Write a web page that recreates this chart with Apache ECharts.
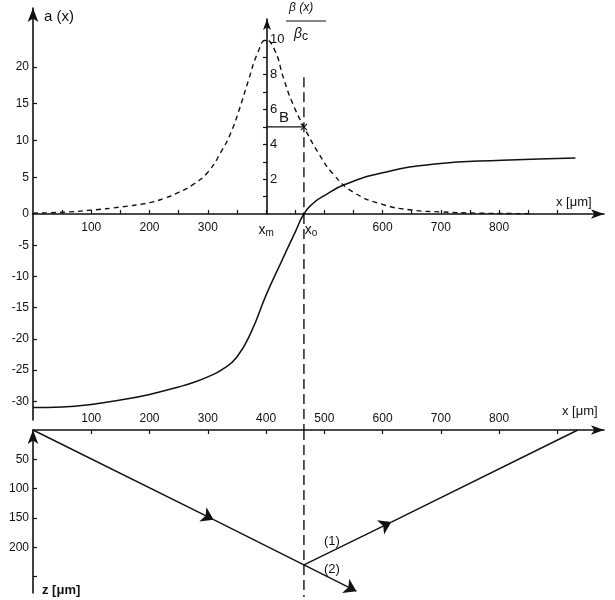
<!DOCTYPE html>
<html>
<head>
<meta charset="utf-8">
<script src="https://cdn.jsdelivr.net/npm/echarts@6/dist/echarts.min.js"></script>
<style>
html, body { margin: 0; padding: 0; background: #fff; }
#chart { width: 615px; height: 600px; }
</style>
</head>
<body>
<div id="chart"></div>
<script>
// a(x) - solid curve (x in um)
const aX = [0, 50, 100, 150, 200, 250, 275, 300, 325, 350, 375, 400, 425, 450, 465, 480, 500, 535, 600, 690, 805, 931];
const aVal = [-31, -30.9, -30.5, -29.8, -28.9, -27.7, -27.0, -26.1, -24.9, -22.9, -18.8, -13.0, -7.9, -2.9, 0, 1.4, 2.5, 4.0, 5.6, 6.8, 7.3, 7.6];

// beta(x)/beta_c - dashed curve
const betaX = [0, 50, 100, 150, 200, 225, 250, 275, 300, 325, 340, 355, 370, 385, 400, 415, 430, 445, 465, 490, 515, 550, 600, 650, 700, 760, 855];
const betaVal = [0.05, 0.1, 0.22, 0.4, 0.65, 0.9, 1.24, 1.7, 2.4, 3.7, 4.7, 6.1, 7.7, 9.2, 10, 9.4, 7.8, 6.4, 5.0, 3.5, 2.3, 1.25, 0.55, 0.23, 0.12, 0.05, 0.02];

// ticks and labels
const xTicks = [50, 100, 150, 200, 250, 300, 350, 400, 450, 500, 550, 600, 650, 700, 750, 800, 850, 900];
const xTopLabels = [100, 200, 300, 400, 465, 600, 700, 800];
const xLowTicks = [100, 200, 300, 400, 500, 600, 700, 800, 900];
const xLowLabels = [100, 200, 300, 400, 500, 600, 700, 800];
const aPosTicks = [5, 10, 15, 20];
const aPosLabels = [0, 5, 10, 15, 20];
const aNegTicks = [-5, -10, -15, -20, -25, -30];
const betaTicks = [1, 2, 3, 4, 5, 6, 7, 8, 9, 10];
const betaLabels = [2, 4, 6, 8, 10];
const zTicks = [50, 100, 150, 200, 250];
const zLabels = [50, 100, 150, 200];

// special points
const xM = 400;
const x0 = 465;
const betaB = 5;
const x0LineTop = 18.6;   // a-value where dashed x0 line starts
const x0LineMid = -34.6;  // down to lower panel
const x0LineBottom = 285; // z-value where it ends

// ray paths in the lower panel, middle point = arrow position
const pathIn = [[0, 0], [310, 153], [465, 230]];
const path1 = [[465, 230], [615, 157], [935, 0]];
const path2 = [[465, 230], [555, 275]];

const FONT = 'Liberation Sans';
const INK = '#111';

// split the solid curve at a = 0, keeping one point past the split so both halves join smoothly (clipped by grid)
const solidNeg = [];
const solidPos = [];
aX.forEach((x, i) => {
    if (aVal[i] <= 0 || (i > 0 && aVal[i - 1] <= 0)) solidNeg.push([x, aVal[i]]);
    if (aVal[i] >= 0 || (i < aX.length - 1 && aVal[i + 1] >= 0)) solidPos.push([x, aVal[i]]);
});
const betaData = betaX.map((x, i) => [x, betaVal[i]]);

const arrowSegs = [
    { coords: [pathIn[0], pathIn[1]] },
    { coords: [path1[0], path1[1]] },
    { coords: [path2[0], path2[1]] }
];
const plainSegs = [
    { coords: [pathIn[1], pathIn[2]] },
    { coords: [path1[1], path1[2]] }
];

const axisLineStyle = { color: INK, width: 1.6 };
const labelStyle = { color: INK, fontFamily: FONT, fontSize: 12 };

const chart = echarts.init(document.getElementById('chart'), null, { renderer: 'canvas' });

const option = {
    animation: false,
    backgroundColor: '#fff',
    grid: [
        { left: 33, top: 8, width: 571, height: 206, outerBoundsMode: 'none' },   // a >= 0
        { left: 33, top: 19, width: 571, height: 195, outerBoundsMode: 'none' },  // beta axis
        { left: 33, top: 214, width: 571, height: 206, outerBoundsMode: 'none' }, // a < 0
        { left: 33, top: 430, width: 571, height: 163, outerBoundsMode: 'none' }  // ray paths
    ],
    xAxis: [
        {
            gridIndex: 0, type: 'value', min: 0, max: 980,
            axisLine: { onZero: false, symbol: ['none', 'arrow'], symbolSize: [7, 13], lineStyle: axisLineStyle },
            axisTick: { inside: true, length: 4, customValues: xTicks, lineStyle: { color: INK, width: 1.2 } },
            axisLabel: Object.assign({}, labelStyle, {
                margin: 8,
                customValues: xTopLabels,
                formatter: v => v === xM ? '{b|x}{s|m}' : (v === x0 ? '{p|}{b|x}{s|o}' : String(v)),
                rich: {
                    b: { fontFamily: FONT, fontSize: 14, color: INK },
                    s: { fontFamily: FONT, fontSize: 10, color: INK, padding: [6, 0, 0, 0] },
                    p: { width: 14 }
                }
            }),
            splitLine: { show: false }
        },
        { gridIndex: 1, type: 'value', min: 0, max: 980, show: false },
        { gridIndex: 2, type: 'value', min: 0, max: 980, show: false },
        {
            gridIndex: 3, type: 'value', min: 0, max: 980, position: 'top',
            axisLine: { onZero: false, symbol: ['none', 'arrow'], symbolSize: [7, 13], lineStyle: axisLineStyle },
            axisTick: { inside: true, length: 4, customValues: xLowTicks, lineStyle: { color: INK, width: 1.2 } },
            axisLabel: Object.assign({}, labelStyle, { margin: 5, customValues: xLowLabels }),
            splitLine: { show: false }
        }
    ],
    yAxis: [
        {
            gridIndex: 0, type: 'value', min: 0, max: 28,
            axisLine: { show: true, onZero: false, symbol: ['none', 'arrow'], symbolSize: [8, 14], lineStyle: axisLineStyle },
            axisTick: { show: true, inside: true, length: 4, customValues: aPosTicks, lineStyle: { color: INK, width: 1.2 } },
            axisLabel: Object.assign({}, labelStyle, { margin: 4, customValues: aPosLabels }),
            splitLine: { show: false }
        },
        {
            gridIndex: 1, type: 'value', min: 0, max: 11.2, position: 'left', offset: -234,
            axisLine: { show: true, onZero: false, symbol: ['none', 'arrow'], symbolSize: [6, 11], lineStyle: axisLineStyle },
            axisTick: { show: true, length: 4, customValues: betaTicks, lineStyle: { color: INK, width: 1.2 } },
            axisLabel: Object.assign({}, labelStyle, { inside: true, margin: 3, fontSize: 13, customValues: betaLabels }),
            splitLine: { show: false }
        },
        {
            gridIndex: 2, type: 'value', min: -33, max: 0,
            axisLine: { show: true, onZero: false, lineStyle: axisLineStyle },
            axisTick: { show: true, inside: true, length: 4, customValues: aNegTicks, lineStyle: { color: INK, width: 1.2 } },
            axisLabel: Object.assign({}, labelStyle, { margin: 4, customValues: aNegTicks }),
            splitLine: { show: false }
        },
        {
            gridIndex: 3, type: 'value', min: 0, max: 278, inverse: true,
            axisLine: { show: true, onZero: false, symbol: ['none', 'arrow'], symbolSize: [8, 14], lineStyle: axisLineStyle },
            axisTick: { show: true, inside: true, length: 4, customValues: zTicks, lineStyle: { color: INK, width: 1.2 } },
            axisLabel: Object.assign({}, labelStyle, { margin: 4, customValues: zLabels }),
            splitLine: { show: false }
        }
    ],
    series: [
        // a(x), positive part
        {
            type: 'line', xAxisIndex: 0, yAxisIndex: 0, data: solidPos, smooth: 0.5,
            symbol: 'none', lineStyle: { color: INK, width: 1.5 }
        },
        // a(x), negative part
        {
            type: 'line', xAxisIndex: 2, yAxisIndex: 2, data: solidNeg, smooth: 0.5,
            symbol: 'none', lineStyle: { color: INK, width: 1.5 }
        },
        // beta(x)/beta_c
        {
            type: 'line', xAxisIndex: 1, yAxisIndex: 1, data: betaData, smooth: 0.5,
            symbol: 'none', lineStyle: { color: INK, width: 1.4, type: [5, 4] }
        },
        // B marker
        {
            type: 'line', xAxisIndex: 1, yAxisIndex: 1,
            data: [
                { value: [xM, betaB], symbol: 'none' },
                { value: [x0, betaB], symbol: 'path://M0,1L1,0L5,4L9,0L10,1L6,5L10,9L9,10L5,6L1,10L0,9L4,5Z', symbolSize: 7 }
            ],
            showSymbol: true, symbol: 'none',
            itemStyle: { color: INK },
            lineStyle: { color: INK, width: 1.2 }
        },
        // x0 dashed vertical
        {
            type: 'line', xAxisIndex: 0, yAxisIndex: 0, data: [[x0, x0LineTop], [x0, 0]],
            symbol: 'none', lineStyle: { color: '#000', width: 1.3, type: [10, 5] }
        },
        {
            type: 'line', xAxisIndex: 2, yAxisIndex: 2, data: [[x0, 0], [x0, x0LineMid]], clip: false,
            symbol: 'none', lineStyle: { color: '#000', width: 1.3, type: [10, 5] }
        },
        {
            type: 'line', xAxisIndex: 3, yAxisIndex: 3, data: [[x0, 0], [x0, x0LineBottom]], clip: false,
            symbol: 'none', lineStyle: { color: '#000', width: 1.3, type: [10, 5] }
        },
        // ray paths
        {
            type: 'lines', coordinateSystem: 'cartesian2d', xAxisIndex: 3, yAxisIndex: 3,
            data: arrowSegs, symbol: ['none', 'arrow'], symbolSize: 12,
            lineStyle: { color: INK, width: 1.4, opacity: 1 }
        },
        {
            type: 'lines', coordinateSystem: 'cartesian2d', xAxisIndex: 3, yAxisIndex: 3,
            data: plainSegs, symbol: 'none',
            lineStyle: { color: INK, width: 1.4, opacity: 1 }
        }
    ],
    graphic: [
        { type: 'text', left: 44, top: 9, style: { text: 'a (x)', fontFamily: FONT, fontSize: 15, fill: INK } },
        { type: 'text', left: 556, top: 196, style: { text: 'x [μm]', fontFamily: FONT, fontSize: 13, fill: INK } },
        { type: 'text', left: 562, top: 405, style: { text: 'x [μm]', fontFamily: FONT, fontSize: 13, fill: INK } },
        { type: 'text', left: 42, top: 584, style: { text: 'z [μm]', fontFamily: FONT, fontSize: 13, fill: INK, fontWeight: 'bold' } },
        { type: 'text', left: 289, top: 2, style: { text: 'β (x)', fontFamily: FONT, fontSize: 12, fontStyle: 'italic', fill: INK } },
        { type: 'line', shape: { x1: 286, y1: 21, x2: 326, y2: 21 }, style: { stroke: INK, lineWidth: 1.2 } },
        { type: 'text', left: 294, top: 27, style: { text: '{b|β}{s|c}', fontFamily: FONT, fill: INK,
            rich: { b: { fontSize: 14, fontStyle: 'italic', fontFamily: FONT }, s: { fontSize: 12, fontFamily: FONT, padding: [5, 0, 0, 0] } } } },
        { type: 'text', left: 279, top: 110, style: { text: 'B', fontFamily: FONT, fontSize: 15, fill: INK } },
        { type: 'text', left: 324, top: 535, style: { text: '(1)', fontFamily: FONT, fontSize: 13, fill: INK } },
        { type: 'text', left: 324, top: 563, style: { text: '(2)', fontFamily: FONT, fontSize: 13, fill: INK } }
    ]
};

chart.setOption(option);
</script>
</body>
</html>
